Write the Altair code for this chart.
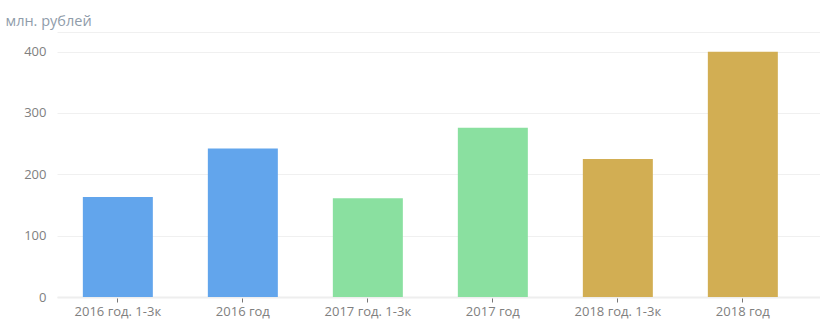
import altair as alt
import pandas as pd

categories = ["2016 год. 1-3к", "2016 год", "2017 год. 1-3к", "2017 год", "2018 год. 1-3к", "2018 год"]
values = [163, 242, 161, 276, 225, 400]
groups = ["2016", "2016", "2017", "2017", "2018", "2018"]
group_colors = ["#62a5ec", "#8ae0a0", "#d2ae53"]

df = pd.DataFrame({"cat": categories, "val": values, "grp": groups})

FONT = "Open Sans"

chart = alt.Chart(df).mark_bar().encode(
    x=alt.X("cat:N", sort=categories, title=None,
            scale=alt.Scale(paddingInner=0.44, paddingOuter=0.272, align=0.38),
            axis=alt.Axis(labelAngle=0, labelColor="#808080", labelFontSize=13, labelFont=FONT,
                          tickColor="#777777", tickSize=5, tickWidth=1, labelPadding=3,
                          domainColor="#eeeeee", domainWidth=2, grid=False)),
    y=alt.Y("val:Q", title="млн. рублей",
            scale=alt.Scale(domain=[0, 432], nice=False),
            axis=alt.Axis(values=[0, 100, 200, 300, 400, 432],
                          labelExpr="datum.value > 400 ? '' : datum.label",
                          labelColor="#808080", labelFontSize=13, labelFont=FONT,
                          labelPadding=11, ticks=False, domain=False,
                          gridColor="#f0f0f0", gridWidth=1,
                          titleAngle=0, titleAlign="left", titleBaseline="alphabetic",
                          titleX=-52, titleY=-7, titleColor="#8f9caa",
                          titleFont=FONT, titleFontSize=14.5, titleFontWeight="normal")),
    color=alt.Color("grp:N", scale=alt.Scale(domain=["2016", "2017", "2018"], range=group_colors),
                    legend=None),
).properties(
    width=763, height=265,
    autosize=alt.AutoSizeParams(type="none"),
    padding={"left": 57, "top": 32, "right": 0, "bottom": 35},
).configure_view(stroke=None)

chart.save("out.html", embed_options={"renderer": "svg", "actions": False})
